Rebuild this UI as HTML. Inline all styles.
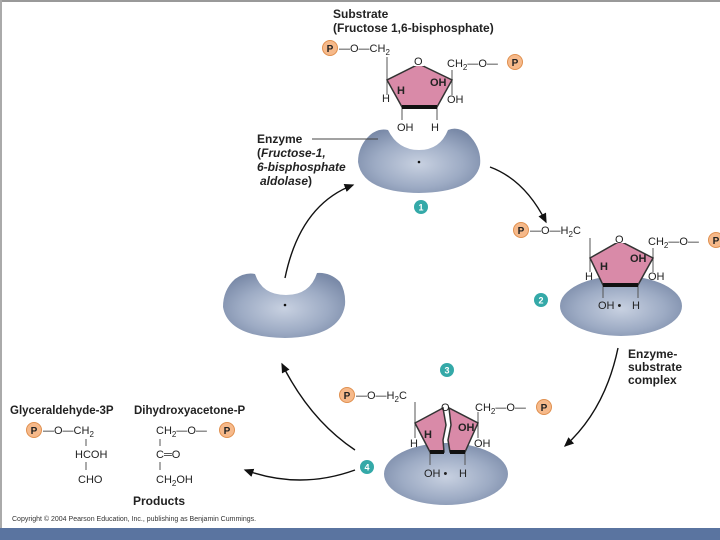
<!DOCTYPE html>
<html><head><meta charset="utf-8"><style>
body{margin:0;background:#fff;}
svg{display:block;font-family:"Liberation Sans",sans-serif;}
.b{font-weight:bold;fill:#222;}
.t{font-size:11px;fill:#222;}
</style></head><body>
<svg width="720" height="540" viewBox="0 0 720 540">
<defs>
<radialGradient id="eg" cx="0.5" cy="0.55" r="0.6">
<stop offset="0" stop-color="#c8d1e1"/><stop offset="0.6" stop-color="#9dabc4"/><stop offset="1" stop-color="#7a8aa8"/>
</radialGradient>
<marker id="ar" markerWidth="8" markerHeight="8" refX="6" refY="4" orient="auto"><path d="M0,1 L7,4 L0,7 z" fill="#111"/></marker>
<g id="P"><circle r="7.5" fill="#f6b98a" stroke="#e0904f" stroke-width="1"/><text y="4" text-anchor="middle" font-size="10" font-weight="bold" fill="#222">P</text></g>
</defs>
<rect x="0" y="0" width="720" height="2" fill="#999"/>
<rect x="0" y="0" width="2" height="528" fill="#aaa"/>
<rect x="0" y="528" width="720" height="12" fill="#5a74a0"/>

<path d="M370,135 Q378,128 388,130 Q398,150 419,150 Q440,150 448,130 Q458,126 468,134 Q482,148 480,165 Q474,192 419,193 Q362,192 358,162 Q358,146 370,135 z" fill="url(#eg)"/>
<circle cx="419" cy="162" r="1.3" fill="#111"/>
<path d="M235,279 Q245,272 255,274 Q262,295 286,295 Q310,295 317,273 Q330,272 340,282 Q346,292 345,305 Q340,337 285,338 Q228,337 223,307 Q223,290 235,279 z" fill="url(#eg)"/>
<circle cx="285" cy="305" r="1.3" fill="#111"/>
<ellipse cx="621" cy="306" rx="61" ry="30" fill="url(#eg)"/>
<ellipse cx="446" cy="474" rx="62" ry="31" fill="url(#eg)"/>

<text x="333" y="18" class="b" font-size="12">Substrate</text>
<text x="333" y="32" class="b" font-size="12">(Fructose 1,6-bisphosphate)</text>
<text x="257" y="143" class="b" font-size="12">Enzyme</text>
<line x1="312" y1="139" x2="378" y2="139" stroke="#444" stroke-width="1"/>
<text x="257" y="157" class="b" font-size="12">(<tspan font-style="italic">Fructose-1,</tspan></text>
<text x="257" y="171" class="b" font-size="12" font-style="italic">6-bisphosphate</text>
<text x="260" y="185" class="b" font-size="12"><tspan font-style="italic">aldolase</tspan>)</text>

<g>
<line x1="387" y1="57" x2="387" y2="95" stroke="#555"/>
<line x1="452" y1="70" x2="452" y2="95" stroke="#555"/>
<line x1="402" y1="107" x2="402" y2="120" stroke="#555"/>
<line x1="437" y1="107" x2="437" y2="120" stroke="#555"/>
<path d="M419,64 L452,80 L437,107 L402,107 L387,80 z" fill="#d98aa8" stroke="#333" stroke-width="1.5"/>
<line x1="402" y1="107" x2="437" y2="107" stroke="#111" stroke-width="4"/>
<rect x="414" y="56" width="10" height="10" fill="#fff"/>
<text x="414" y="65" class="t">O</text>
<use href="#P" x="330" y="48"/>
<text x="339" y="52" class="t">—O—CH<tspan font-size="8" dy="3">2</tspan></text>
<text x="447" y="67" class="t">CH<tspan font-size="8" dy="3">2</tspan><tspan dy="-3">—O—</tspan></text>
<use href="#P" x="515" y="62"/>
<text x="397" y="94" class="b" font-size="11">H</text>
<text x="382" y="102" class="t">H</text>
<text x="430" y="86" class="b" font-size="11">OH</text>
<text x="447" y="103" class="t">OH</text>
<text x="397" y="131" class="t">OH</text>
<text x="431" y="131" class="t">H</text>
</g>

<g>
<line x1="590" y1="238" x2="590" y2="272" stroke="#555"/>
<line x1="653" y1="248" x2="653" y2="272" stroke="#555"/>
<line x1="603" y1="285" x2="603" y2="298" stroke="#555"/>
<line x1="638" y1="285" x2="638" y2="298" stroke="#555"/>
<path d="M620,241 L653,258 L638,285 L603,285 L590,258 z" fill="#d98aa8" stroke="#333" stroke-width="1.5"/>
<line x1="603" y1="285" x2="638" y2="285" stroke="#111" stroke-width="4"/>
<rect x="615" y="233" width="10" height="10" fill="#fff"/>
<text x="615" y="243" class="t">O</text>
<use href="#P" x="521" y="230"/>
<text x="530" y="234" class="t">—O—H<tspan font-size="8" dy="3">2</tspan><tspan dy="-3">C</tspan></text>
<text x="648" y="245" class="t">CH<tspan font-size="8" dy="3">2</tspan><tspan dy="-3">—O—</tspan></text>
<use href="#P" x="716" y="240"/>
<text x="600" y="270" class="b" font-size="11">H</text>
<text x="585" y="280" class="t">H</text>
<text x="630" y="262" class="b" font-size="11">OH</text>
<text x="648" y="280" class="t">OH</text>
<text x="598" y="309" class="t">OH •</text>
<text x="632" y="309" class="t">H</text>
</g>
<text x="628" y="358" class="b" font-size="12">Enzyme-</text>
<text x="628" y="371" class="b" font-size="12">substrate</text>
<text x="628" y="384" class="b" font-size="12">complex</text>

<g>
<line x1="415" y1="402" x2="415" y2="438" stroke="#555"/>
<line x1="478" y1="412" x2="478" y2="438" stroke="#555"/>
<line x1="430" y1="452" x2="430" y2="465" stroke="#555"/>
<line x1="465" y1="452" x2="465" y2="465" stroke="#555"/>
<path d="M443,408 L446,425 L443,440 L444,452 L430,452 L415,423 z" fill="#d98aa8" stroke="#333" stroke-width="1.5"/>
<path d="M449,408 L451,425 L448,440 L450,452 L465,452 L478,423 z" fill="#d98aa8" stroke="#333" stroke-width="1.5"/>
<line x1="430" y1="452" x2="444" y2="452" stroke="#111" stroke-width="4"/>
<line x1="450" y1="452" x2="465" y2="452" stroke="#111" stroke-width="4"/>
<text x="441" y="411" class="t">O</text>
<use href="#P" x="347" y="395"/>
<text x="356" y="399" class="t">—O—H<tspan font-size="8" dy="3">2</tspan><tspan dy="-3">C</tspan></text>
<text x="475" y="411" class="t">CH<tspan font-size="8" dy="3">2</tspan><tspan dy="-3">—O—</tspan></text>
<use href="#P" x="544" y="407"/>
<text x="424" y="438" class="b" font-size="11">H</text>
<text x="410" y="447" class="t">H</text>
<text x="458" y="431" class="b" font-size="11">OH</text>
<text x="474" y="447" class="t">OH</text>
<text x="424" y="477" class="t">OH •</text>
<text x="459" y="477" class="t">H</text>
</g>

<g font-size="9" font-weight="bold" fill="#fff" text-anchor="middle">
<circle cx="421" cy="207" r="7" fill="#34a9a8"/><text x="421" y="210.5">1</text>
<circle cx="541" cy="300" r="7" fill="#34a9a8"/><text x="541" y="303.5">2</text>
<circle cx="447" cy="370" r="7" fill="#34a9a8"/><text x="447" y="373.5">3</text>
<circle cx="367" cy="467" r="7" fill="#34a9a8"/><text x="367" y="470.5">4</text>
</g>

<g fill="none" stroke="#111" stroke-width="1.4">
<path d="M490,167 Q525,180 546,222" marker-end="url(#ar)"/>
<path d="M618,348 Q605,410 565,446" marker-end="url(#ar)"/>
<path d="M355,470 Q300,490 245,470" marker-end="url(#ar)"/>
<path d="M355,450 Q310,420 282,364" marker-end="url(#ar)"/>
<path d="M285,278 Q300,205 353,185" marker-end="url(#ar)"/>
</g>

<text x="10" y="414" font-size="11.5" fill="#222" font-weight="bold" style="font-weight:600">Glyceraldehyde-3P</text>
<text x="134" y="414" font-size="11.5" fill="#222" style="font-weight:600">Dihydroxyacetone-P</text>
<use href="#P" x="34" y="430"/>
<text x="43" y="434" class="t">—O—CH<tspan font-size="8" dy="3">2</tspan></text>
<line x1="86" y1="439" x2="86" y2="446" stroke="#555"/>
<text x="75" y="458" class="t">HCOH</text>
<line x1="86" y1="462" x2="86" y2="470" stroke="#555"/>
<text x="78" y="483" class="t">CHO</text>
<text x="156" y="434" class="t">CH<tspan font-size="8" dy="3">2</tspan><tspan dy="-3">—O—</tspan></text>
<use href="#P" x="227" y="430"/>
<line x1="160" y1="439" x2="160" y2="446" stroke="#555"/>
<text x="156" y="458" class="t">C═O</text>
<line x1="160" y1="462" x2="160" y2="470" stroke="#555"/>
<text x="156" y="483" class="t">CH<tspan font-size="8" dy="3">2</tspan><tspan dy="-3">OH</tspan></text>
<text x="133" y="505" class="b" font-size="12">Products</text>
<text x="12" y="521" font-size="7" fill="#333">Copyright © 2004 Pearson Education, Inc., publishing as Benjamin Cummings.</text>
</svg>
</body></html>
